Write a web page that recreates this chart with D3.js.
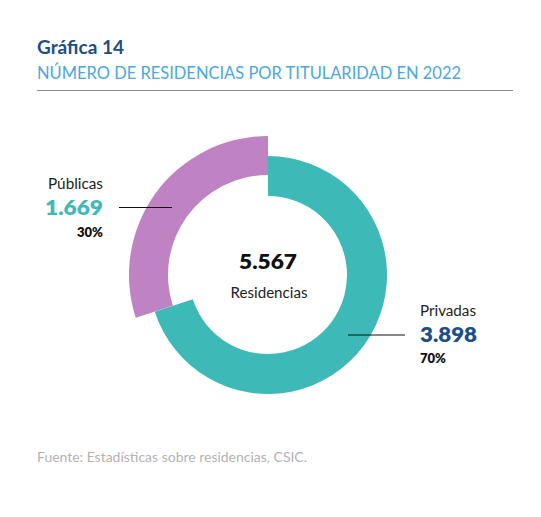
<!DOCTYPE html>
<html><head><meta charset="utf-8">
<script src="https://cdn.jsdelivr.net/npm/d3@7"></script>
<style>body{margin:0;background:#fff;}svg{display:block;font-family:Lato,"Open Sans",sans-serif;}</style>
</head><body>
<script>
const categories = ["Privadas", "Públicas"];
const values = [3898, 1669];
const valueLabels = ["3.898", "1.669"];
const percentLabels = ["70%", "30%"];
const totalLabel = "5.567";
const centerLabel = "Residencias";
const title = "Gráfica 14";
const subtitle = "NÚMERO DE RESIDENCIAS POR TITULARIDAD EN 2022";
const source = "Fuente: Estadísticas sobre residencias, CSIC.";

const W = 541, H = 517;
const svg = d3.select("body").append("svg").attr("width", W).attr("height", H);

function fit(sel, w){ // stretch text to measured width in reference
  sel.attr("textLength", w).attr("lengthAdjust", "spacingAndGlyphs");
  return sel;
}

svg.append("text").attr("x", 37).attr("y", 54).attr("font-size", 18).attr("font-weight", 700)
  .attr("fill", "#1b4f86").text(title).call(fit, 87);
svg.append("text").attr("x", 37).attr("y", 79).attr("font-size", 17.5).attr("font-weight", 400)
  .attr("fill", "#4aa8e2").text(subtitle).call(fit, 424);
svg.append("line").attr("x1", 37).attr("x2", 513).attr("y1", 90.5).attr("y2", 90.5)
  .attr("stroke", "#8a8a8a").attr("stroke-width", 1);

const cx = 268, cy = 275;
const colors = {"Privadas": "#3db9b8", "Públicas": "#bf83c4"};
const radii = {"Privadas": [79, 119], "Públicas": [100, 139]};

const pie = d3.pie().sort(null).value(d => d.value);
const data = categories.map((c, i) => ({cat: c, value: values[i]}));
const arcs = pie(data);
const g = svg.append("g").attr("transform", `translate(${cx},${cy})`);
g.selectAll("path").data(arcs).join("path")
  .attr("d", d => d3.arc().innerRadius(radii[d.data.cat][0]).outerRadius(radii[d.data.cat][1])(d))
  .attr("fill", d => colors[d.data.cat]);

// center
svg.append("text").attr("x", cx).attr("y", 269).attr("text-anchor", "middle").attr("font-size", 21)
  .attr("font-weight", 800).attr("fill", "#111").text(totalLabel).call(fit, 58);
svg.append("text").attr("x", cx + 1).attr("y", 297.5).attr("text-anchor", "middle").attr("font-size", 14.5)
  .attr("fill", "#222").text(centerLabel).call(fit, 77);

// Públicas label (left, right-aligned)
svg.append("line").attr("x1", 119).attr("x2", 172).attr("y1", 207.5).attr("y2", 207.5).attr("stroke", "#111").attr("stroke-width", 1);
svg.append("text").attr("x", 103).attr("y", 189).attr("text-anchor", "end").attr("font-size", 14.5)
  .attr("fill", "#222").text(categories[1]).call(fit, 55);
svg.append("text").attr("x", 103).attr("y", 215).attr("text-anchor", "end").attr("font-size", 21)
  .attr("font-weight", 800).attr("fill", colors["Públicas"] === "" ? "" : "#3db9b8").text(valueLabels[1]).call(fit, 58);
svg.append("text").attr("x", 103).attr("y", 236.5).attr("text-anchor", "end").attr("font-size", 13.5)
  .attr("font-weight", 800).attr("fill", "#111").text(percentLabels[1]).call(fit, 26);

// Privadas label (right, left-aligned)
svg.append("line").attr("x1", 348).attr("x2", 405).attr("y1", 335).attr("y2", 335).attr("stroke", "#111").attr("stroke-width", 1);
svg.append("text").attr("x", 420).attr("y", 316).attr("font-size", 14.5)
  .attr("fill", "#222").text(categories[0]).call(fit, 56);
svg.append("text").attr("x", 420).attr("y", 342).attr("font-size", 21)
  .attr("font-weight", 800).attr("fill", "#1b4f86").text(valueLabels[0]).call(fit, 57);
svg.append("text").attr("x", 420).attr("y", 363).attr("font-size", 13.5)
  .attr("font-weight", 800).attr("fill", "#111").text(percentLabels[0]).call(fit, 26);

// source
svg.append("text").attr("x", 37).attr("y", 462).attr("font-size", 13.5)
  .attr("fill", "#b3b3b3").text(source).call(fit, 270);
</script>
</body></html>
